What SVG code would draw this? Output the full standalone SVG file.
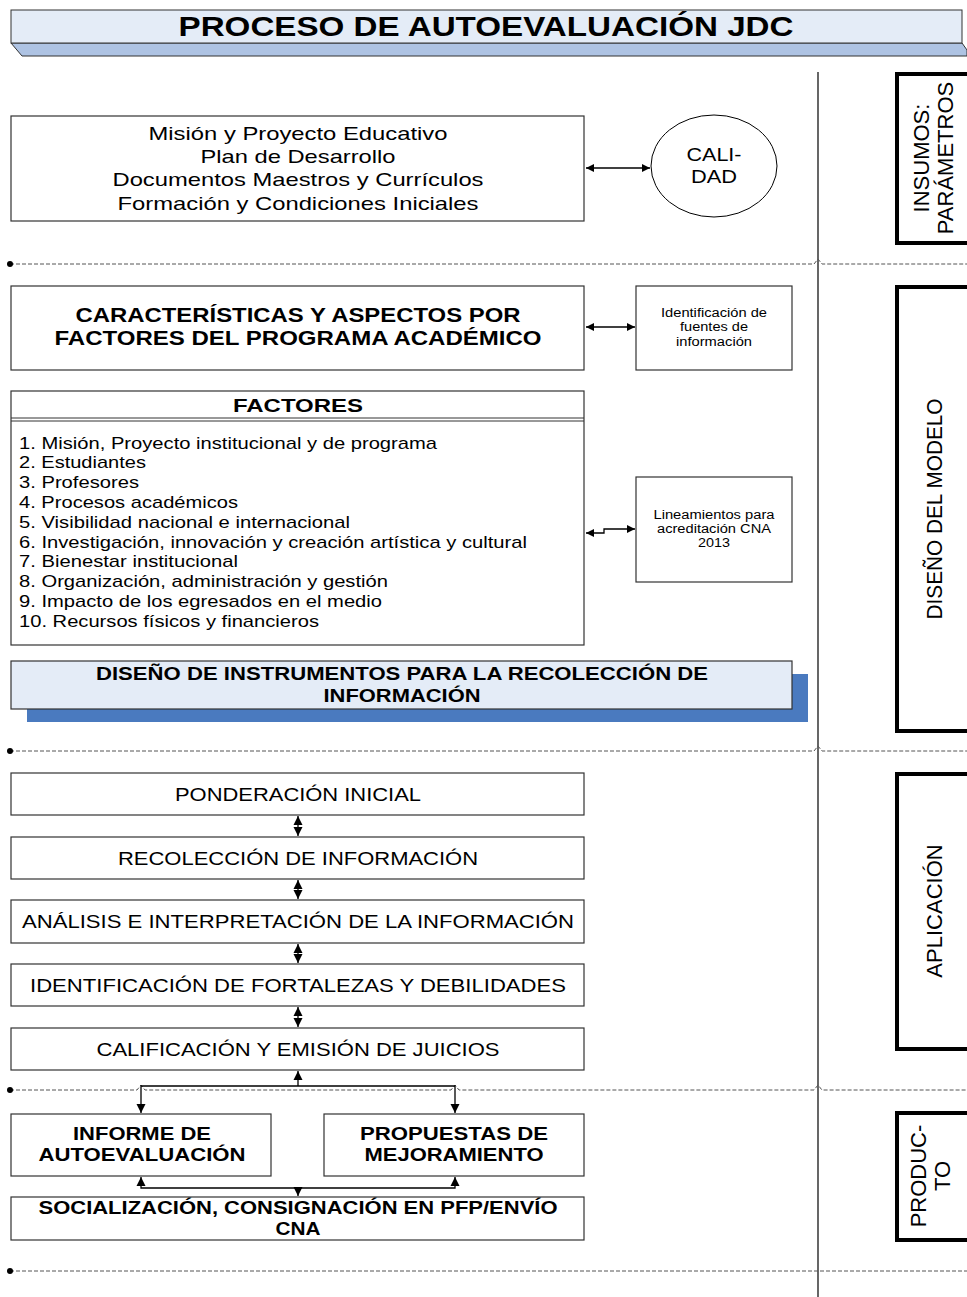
<svg xmlns="http://www.w3.org/2000/svg" width="967" height="1297" viewBox="0 0 967 1297">
<defs>
<marker id="ah" viewBox="0 0 10 10" refX="10" refY="5" markerWidth="10" markerHeight="8" markerUnits="userSpaceOnUse" orient="auto-start-reverse"><path d="M0,0 L10,5 L0,10 z" fill="#000"/></marker>
<marker id="ahs" viewBox="0 0 10 10" refX="10" refY="5" markerWidth="9" markerHeight="11" markerUnits="userSpaceOnUse" orient="auto-start-reverse"><path d="M0,0 L10,5 L0,10 z" fill="#000"/></marker>
<marker id="dot" viewBox="0 0 10 10" refX="5" refY="5" markerWidth="6" markerHeight="6" markerUnits="userSpaceOnUse"><circle cx="5" cy="5" r="5" fill="#000"/></marker>
</defs>
<style>
text{font-family:"Liberation Sans",Arial,sans-serif;fill:#000}
.box{fill:#fff;stroke:#333;stroke-width:1.2}
.side{fill:#fff;stroke:#000;stroke-width:4}
.dash{fill:none;stroke:#555;stroke-width:1;stroke-dasharray:4,2}
.con{fill:none;stroke:#000;stroke-width:1.3}
.c{text-anchor:middle}
.b{font-weight:bold}
.t19{font-size:19px}
.t17{font-size:17px}
.t12{font-size:12px}
.sl{font-size:22px;text-anchor:middle}
</style>

<g id="title">
<polygon points="11,43 962,43 967,50 967,56 22,56" fill="#aec3e3" stroke="#333" stroke-width="1"/>
<rect x="11" y="10" width="951" height="33" fill="#e4ecf7" stroke="#333" stroke-width="1"/>
<text x="486" y="36" class="c b" font-size="28" textLength="615" lengthAdjust="spacingAndGlyphs">PROCESO DE AUTOEVALUACIÓN JDC</text>
</g>

<g id="separators">
<line x1="818" y1="72" x2="818" y2="1297" stroke="#000" stroke-width="1.2"/>
<path class="dash" marker-start="url(#dot)" d="M10,264 H814 L818,259 L822,264 H967"/>
<path class="dash" marker-start="url(#dot)" d="M10,751 H814 L818,746 L822,751 H967"/>
<path class="dash" marker-start="url(#dot)" d="M10,1090 H137 L141,1085 L145,1090 H451 L455,1085 L459,1090 H814 L818,1085 L822,1090 H967"/>
<path class="dash" marker-start="url(#dot)" d="M10,1271 H967"/>
</g>

<g id="insumos">
<rect class="side" x="897" y="74" width="80" height="169"/>
<text class="sl" transform="translate(929,158) rotate(-90)"><tspan x="0" y="0">INSUMOS:</tspan><tspan x="0" y="24">PARÁMETROS</tspan></text>
</g>
<g id="diseno-modelo">
<rect class="side" x="897" y="287" width="80" height="444"/>
<text class="sl" font-size="21" transform="translate(942,509) rotate(-90)" textLength="221" lengthAdjust="spacingAndGlyphs">DISEÑO DEL MODELO</text>
</g>
<g id="aplicacion">
<rect class="side" x="897" y="774" width="80" height="275"/>
<text class="sl" transform="translate(942,911) rotate(-90)">APLICACIÓN</text>
</g>
<g id="producto">
<rect class="side" x="897" y="1113" width="80" height="127"/>
<text class="sl" transform="translate(926,1176) rotate(-90)"><tspan x="0" y="0">PRODUC-</tspan><tspan x="0" y="24">TO</tspan></text>
</g>

<g id="mision">
<rect class="box" x="11" y="116" width="573" height="105"/>
<text class="c t19" x="298" y="140" textLength="299" lengthAdjust="spacingAndGlyphs">Misión y Proyecto Educativo</text>
<text class="c t19" x="298" y="163" textLength="195" lengthAdjust="spacingAndGlyphs">Plan de Desarrollo</text>
<text class="c t19" x="298" y="186" textLength="371" lengthAdjust="spacingAndGlyphs">Documentos Maestros y Currículos</text>
<text class="c t19" x="298" y="210" textLength="361" lengthAdjust="spacingAndGlyphs">Formación y Condiciones Iniciales</text>
</g>
<g id="calidad">
<ellipse cx="714" cy="166" rx="63" ry="51" fill="#fff" stroke="#000" stroke-width="1"/>
<text class="c" font-size="18" x="714" y="161" textLength="55" lengthAdjust="spacingAndGlyphs">CALI-</text>
<text class="c" font-size="18" x="714" y="183" textLength="46" lengthAdjust="spacingAndGlyphs">DAD</text>
</g>

<g id="caracteristicas">
<rect class="box" x="11" y="286" width="573" height="84"/>
<text class="c b" font-size="20" x="298" y="322" textLength="445" lengthAdjust="spacingAndGlyphs">CARACTERÍSTICAS Y ASPECTOS POR</text>
<text class="c b" font-size="20" x="298" y="345" textLength="487" lengthAdjust="spacingAndGlyphs">FACTORES DEL PROGRAMA ACADÉMICO</text>
</g>
<g id="fuentes">
<rect class="box" x="636" y="286" width="156" height="84"/>
<text class="c t12" x="714" y="317" textLength="106" lengthAdjust="spacingAndGlyphs">Identificación de</text>
<text class="c t12" x="714" y="331" textLength="68" lengthAdjust="spacingAndGlyphs">fuentes de</text>
<text class="c t12" x="714" y="346" textLength="76" lengthAdjust="spacingAndGlyphs">información</text>
</g>

<g id="factores">
<rect class="box" x="11" y="391" width="573" height="254"/>
<line x1="11" y1="418" x2="584" y2="418" stroke="#333" stroke-width="1"/>
<line x1="11" y1="421" x2="584" y2="421" stroke="#333" stroke-width="1"/>
<text class="c b" font-size="19" x="298" y="412" textLength="130" lengthAdjust="spacingAndGlyphs">FACTORES</text>
<text class="t17" x="19" y="449" textLength="418" lengthAdjust="spacingAndGlyphs">1. Misión, Proyecto institucional y de programa</text>
<text class="t17" x="19" y="468" textLength="127" lengthAdjust="spacingAndGlyphs">2. Estudiantes</text>
<text class="t17" x="19" y="488" textLength="120" lengthAdjust="spacingAndGlyphs">3. Profesores</text>
<text class="t17" x="19" y="508" textLength="219" lengthAdjust="spacingAndGlyphs">4. Procesos académicos</text>
<text class="t17" x="19" y="528" textLength="331" lengthAdjust="spacingAndGlyphs">5. Visibilidad nacional e internacional</text>
<text class="t17" x="19" y="548" textLength="508" lengthAdjust="spacingAndGlyphs">6. Investigación, innovación y creación artística y cultural</text>
<text class="t17" x="19" y="567" textLength="219" lengthAdjust="spacingAndGlyphs">7. Bienestar institucional</text>
<text class="t17" x="19" y="587" textLength="369" lengthAdjust="spacingAndGlyphs">8. Organización, administración y gestión</text>
<text class="t17" x="19" y="607" textLength="363" lengthAdjust="spacingAndGlyphs">9. Impacto de los egresados en el medio</text>
<text class="t17" x="19" y="627" textLength="300" lengthAdjust="spacingAndGlyphs">10. Recursos físicos y financieros</text>
</g>
<g id="lineamientos">
<rect class="box" x="636" y="477" width="156" height="105"/>
<text class="c t12" x="714" y="519" textLength="121" lengthAdjust="spacingAndGlyphs">Lineamientos para</text>
<text class="c t12" x="714" y="533" textLength="114" lengthAdjust="spacingAndGlyphs">acreditación CNA</text>
<text class="c t12" x="714" y="547" textLength="32" lengthAdjust="spacingAndGlyphs">2013</text>
</g>

<g id="instrumentos">
<rect x="27" y="674" width="781" height="48" fill="#4a7abf"/>
<rect x="11" y="661" width="781" height="48" fill="#e4ecf7" stroke="#333" stroke-width="1.2"/>
<text class="c b" font-size="18" x="402" y="680" textLength="612" lengthAdjust="spacingAndGlyphs">DISEÑO DE INSTRUMENTOS PARA LA RECOLECCIÓN DE</text>
<text class="c b" font-size="18" x="402" y="702" textLength="157" lengthAdjust="spacingAndGlyphs">INFORMACIÓN</text>
</g>

<g id="ponderacion">
<rect class="box" x="11" y="773" width="573" height="42"/>
<text class="c t19" x="298" y="801" textLength="246" lengthAdjust="spacingAndGlyphs">PONDERACIÓN INICIAL</text>
</g>
<g id="recoleccion">
<rect class="box" x="11" y="837" width="573" height="42"/>
<text class="c t19" x="298" y="865" textLength="360" lengthAdjust="spacingAndGlyphs">RECOLECCIÓN DE INFORMACIÓN</text>
</g>
<g id="analisis">
<rect class="box" x="11" y="900" width="573" height="43"/>
<text class="c t19" x="298" y="928" textLength="552" lengthAdjust="spacingAndGlyphs">ANÁLISIS E INTERPRETACIÓN DE LA INFORMACIÓN</text>
</g>
<g id="identificacion">
<rect class="box" x="11" y="964" width="573" height="42"/>
<text class="c t19" x="298" y="992" textLength="536" lengthAdjust="spacingAndGlyphs">IDENTIFICACIÓN DE FORTALEZAS Y DEBILIDADES</text>
</g>
<g id="calificacion">
<rect class="box" x="11" y="1028" width="573" height="42"/>
<text class="c t19" x="298" y="1056" textLength="403" lengthAdjust="spacingAndGlyphs">CALIFICACIÓN Y EMISIÓN DE JUICIOS</text>
</g>

<g id="informe">
<rect class="box" x="11" y="1114" width="260" height="62"/>
<text class="c b" font-size="18" x="142" y="1140" textLength="138" lengthAdjust="spacingAndGlyphs">INFORME DE</text>
<text class="c b" font-size="18" x="142" y="1161" textLength="207" lengthAdjust="spacingAndGlyphs">AUTOEVALUACIÓN</text>
</g>
<g id="propuestas">
<rect class="box" x="324" y="1114" width="260" height="62"/>
<text class="c b" font-size="18" x="454" y="1140" textLength="188" lengthAdjust="spacingAndGlyphs">PROPUESTAS DE</text>
<text class="c b" font-size="18" x="454" y="1161" textLength="179" lengthAdjust="spacingAndGlyphs">MEJORAMIENTO</text>
</g>
<g id="socializacion">
<rect class="box" x="11" y="1197" width="573" height="43"/>
<text class="c b" font-size="18" x="298" y="1214" textLength="519" lengthAdjust="spacingAndGlyphs">SOCIALIZACIÓN, CONSIGNACIÓN EN PFP/ENVÍO</text>
<text class="c b" font-size="18" x="298" y="1235" textLength="45" lengthAdjust="spacingAndGlyphs">CNA</text>
</g>

<g id="connectors">
<line class="con" x1="586" y1="168" x2="650" y2="168" marker-start="url(#ah)" marker-end="url(#ah)"/>
<line class="con" x1="586" y1="327" x2="635" y2="327" marker-start="url(#ah)" marker-end="url(#ah)"/>
<path class="con" d="M586,533 H604 V529 H635" marker-start="url(#ah)" marker-end="url(#ah)"/>
<line class="con" x1="298" y1="816" x2="298" y2="836" marker-start="url(#ahs)" marker-end="url(#ahs)"/>
<line class="con" x1="298" y1="880" x2="298" y2="899" marker-start="url(#ahs)" marker-end="url(#ahs)"/>
<line class="con" x1="298" y1="944" x2="298" y2="963" marker-start="url(#ahs)" marker-end="url(#ahs)"/>
<line class="con" x1="298" y1="1007" x2="298" y2="1027" marker-start="url(#ahs)" marker-end="url(#ahs)"/>
<line class="con" x1="298" y1="1086" x2="298" y2="1071" marker-end="url(#ahs)"/>
<path class="con" d="M141,1113 V1086 H455 V1113" marker-start="url(#ahs)" marker-end="url(#ahs)"/>
<path class="con" d="M141,1177 V1188 H455 V1177" marker-start="url(#ahs)" marker-end="url(#ahs)"/>
<line class="con" x1="298" y1="1188" x2="298" y2="1196" marker-end="url(#ahs)"/>
</g>
</svg>
